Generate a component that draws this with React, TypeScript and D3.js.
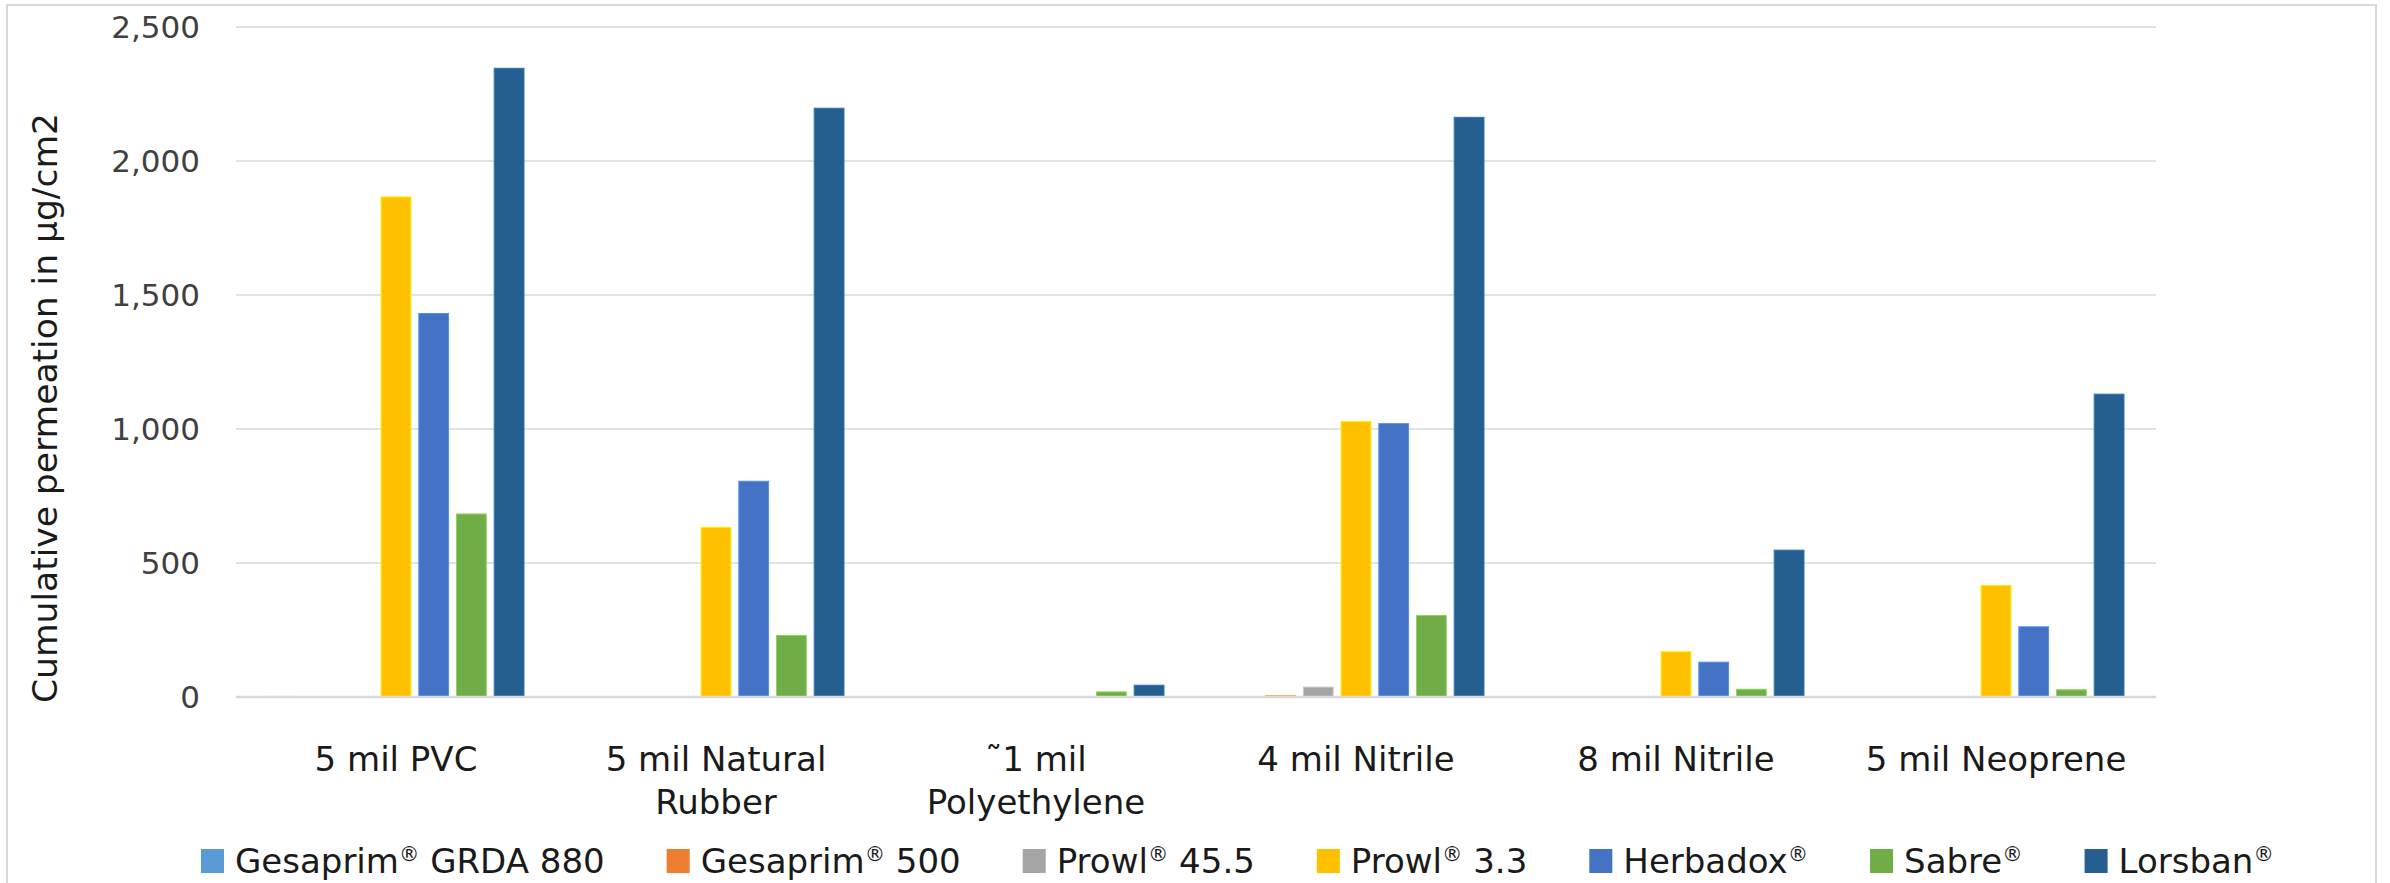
import React, { useRef, useEffect } from 'react'
import * as d3 from 'd3'

const categories = ['5 mil PVC', '5 mil Natural Rubber', '˜1 mil Polyethylene', '4 mil Nitrile', '8 mil Nitrile', '5 mil Neoprene']
const seriesNames = ['Gesaprim® GRDA 880', 'Gesaprim® 500', 'Prowl® 45.5', 'Prowl® 3.3', 'Herbadox®', 'Sabre®', 'Lorsban®']
const seriesColors = ['#5B9BD5', '#ED7D31', '#A5A5A5', '#FFC000', '#4472C4', '#70AD47', '#255E91']

// one array per product, in category order
const gesaprimGrda880 = [2, 0, 0, 0, 0, 0]
const gesaprim500 = [1, 0, 0, 5, 0, 0]
const prowl455 = [1, 0, 0, 37, 1, 0]
const prowl33 = [1866, 633, 0, 1028, 169, 416]
const herbadox = [1431, 805, 1, 1020, 130, 262]
const sabre = [683, 230, 19, 304, 29, 27]
const lorsban = [2346, 2197, 44, 2163, 548, 1130]
const seriesValues = [gesaprimGrda880, gesaprim500, prowl455, prowl33, herbadox, sabre, lorsban]

const yTicks = [0, 500, 1000, 1500, 2000, 2500]
const yTitle = 'Cumulative permeation in µg/cm2'

const W = 2390
const H = 883
const FONT = "'DejaVu Sans', sans-serif"

// writes a label, shrinking the ® into a raised small glyph like Excel does
function writeLabel(sel: d3.Selection<SVGTextElement, unknown, null, undefined>, label: string) {
    const parts = label.split('®')
    let raised = false
    parts.forEach((p, i) => {
        if (p) {
            const t = sel.append('tspan').text(p)
            if (raised) t.attr('dy', '0.36em')
            raised = false
        }
        if (i < parts.length - 1) {
            sel.append('tspan').attr('font-size', '60%').attr('dy', '-0.6em').text('®')
            raised = true
        }
    })
}

export default function App() {
    const svgRef = useRef<SVGSVGElement>(null)

    useEffect(() => {
        document.body.style.margin = '0'
        const svg = d3.select(svgRef.current)
        svg.selectAll('*').remove()

        const left = 236
        const right = 2156
        const top = 27
        const bottom = 697

        const x0 = d3.scaleBand<string>().domain(categories).range([left, right]).paddingInner(0.2).paddingOuter(0.1)
        const x1 = d3.scaleBand<string>().domain(seriesNames).range([0, x0.bandwidth()]).paddingInner(0.21)
        const y = d3.scaleLinear().domain([0, 2500]).range([bottom, top])

        // chart border
        svg.append('rect')
            .attr('x', 7).attr('y', 5).attr('width', 2369).attr('height', 900)
            .attr('fill', '#fff').attr('stroke', '#d9d9d9').attr('stroke-width', 2)

        // gridlines
        svg.append('g').selectAll('line')
            .data(yTicks.filter((t) => t > 0))
            .enter().append('line')
            .attr('x1', left).attr('x2', right)
            .attr('y1', (d) => y(d)).attr('y2', (d) => y(d))
            .attr('stroke', '#d9d9d9').attr('stroke-width', 1.5)

        // y tick labels
        svg.append('g').selectAll('text')
            .data(yTicks)
            .enter().append('text')
            .attr('x', 200).attr('y', (d) => y(d))
            .attr('dy', '0.36em')
            .attr('text-anchor', 'end')
            .attr('font-family', FONT).attr('font-size', 31).attr('fill', '#404040')
            .text((d) => d3.format(',')(d))

        // y title
        svg.append('text')
            .attr('transform', 'translate(57,408) rotate(-90)')
            .attr('text-anchor', 'middle')
            .attr('font-family', FONT).attr('font-size', 34.5).attr('fill', '#1a1a1a')
            .text(yTitle)

        // bars
        const groups = svg.append('g').selectAll('g')
            .data(categories)
            .enter().append('g')
            .attr('transform', (d) => `translate(${x0(d)},0)`)

        groups.selectAll('rect')
            .data((c) => seriesNames.map((s, si) => ({ s, si, v: seriesValues[si][categories.indexOf(c)] })))
            .enter().append('rect')
            .attr('x', (d) => x1(d.s)!)
            .attr('width', x1.bandwidth())
            .attr('y', (d) => y(d.v))
            .attr('height', (d) => bottom - y(d.v))
            .attr('fill', (d) => seriesColors[d.si])
            .attr('stroke', (d) => d3.color(seriesColors[d.si])!.brighter(0.6).formatHex())
            .attr('stroke-width', 1)

        // baseline
        svg.append('line')
            .attr('x1', left).attr('x2', right)
            .attr('y1', bottom).attr('y2', bottom)
            .attr('stroke', '#d9d9d9').attr('stroke-width', 2.5)

        // category labels, wrapped to the band width
        const xLab = svg.append('g')
        categories.forEach((c) => {
            const cx = x0(c)! + x0.bandwidth() / 2
            const words = c.split(' ')
            const probe = xLab.append('text').attr('font-family', FONT).attr('font-size', 34)
            const lines: string[] = []
            let cur = ''
            words.forEach((w) => {
                const test = cur ? cur + ' ' + w : w
                probe.text(test)
                if ((probe.node() as SVGTextElement).getComputedTextLength() > x0.step() - 10 && cur) {
                    lines.push(cur)
                    cur = w
                } else cur = test
            })
            lines.push(cur)
            probe.remove()
            lines.forEach((ln, i) => {
                xLab.append('text')
                    .attr('x', cx).attr('y', 771 + i * 43)
                    .attr('text-anchor', 'middle')
                    .attr('font-family', FONT).attr('font-size', 34).attr('fill', '#1a1a1a')
                    .text(ln)
            })
        })

        // legend
        const legend = svg.append('g')
        let lx = 201
        seriesNames.forEach((s, i) => {
            legend.append('rect')
                .attr('x', lx).attr('y', 849).attr('width', 23).attr('height', 24)
                .attr('fill', seriesColors[i])
            const t = legend.append('text')
                .attr('x', lx + 34).attr('y', 873)
                .attr('font-family', FONT).attr('font-size', 34).attr('fill', '#1a1a1a')
            writeLabel(t, s)
            lx += 34 + (t.node() as SVGTextElement).getComputedTextLength() + 62
        })
    }, [])

    return <svg ref={svgRef} width={W} height={H} style={{ display: 'block' }} />
}
